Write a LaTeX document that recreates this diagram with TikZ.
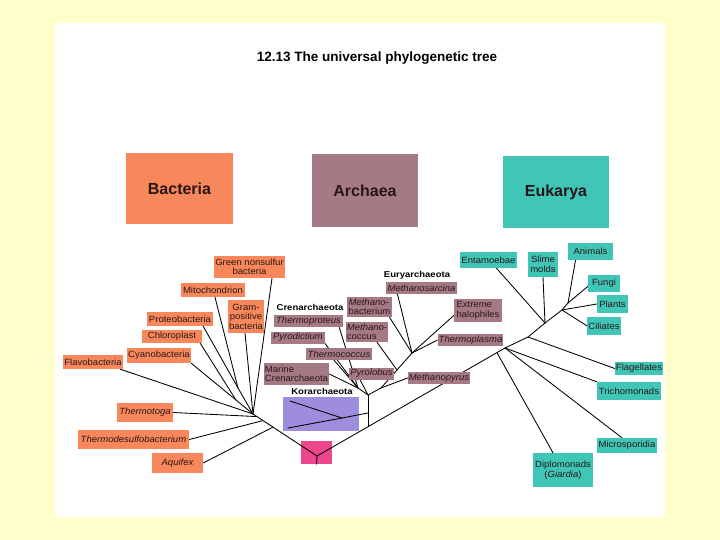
\documentclass[tikz,border=0pt]{standalone}
\usepackage{fontspec}
\setmainfont{Liberation Sans}
\newfontfamily\labfont[FakeStretch=1.06]{Liberation Sans}
\newfontfamily\headfont[FakeStretch=1.12]{Liberation Sans}
\usetikzlibrary{calc}
\pgfdeclarelayer{bgl}
\pgfdeclarelayer{back}
\pgfsetlayers{bgl,back,main}
\definecolor{bgyellow}{RGB}{255,255,204}
\definecolor{bact}{RGB}{248,136,92}
\definecolor{arch}{RGB}{166,122,132}
\definecolor{euk}{RGB}{64,198,182}
\definecolor{kor}{RGB}{158,140,220}
\definecolor{rootc}{RGB}{238,70,140}
\definecolor{txt}{RGB}{40,22,22}
\tikzset{
  lab/.style={inner sep=1pt, font=\labfont\fontsize{9}{9.5}\selectfont, align=center, text=txt},
  bl/.style={lab, fill=bact},
  al/.style={lab, fill=arch},
  el/.style={lab, fill=euk},
  head/.style={inner sep=0pt, font=\headfont\bfseries\fontsize{8.5}{9.5}\selectfont, text=black},
  bigbox/.style={inner sep=0pt, font=\bfseries\fontsize{16}{18}\selectfont, text=txt},
  branch/.style={draw=black, line width=0.85pt, line cap=round, line join=round},
}
\begin{document}
\begin{tikzpicture}[x=1pt,y=-1pt]
\useasboundingbox (0,0) rectangle (720,540);
\begin{pgfonlayer}{bgl}
  \fill[bgyellow] (0,0) rectangle (720,540);
  \fill[white] (55,23) rectangle (665,517);
\end{pgfonlayer}

% title
\node[font=\bfseries\fontsize{13.5}{16}\selectfont] (title) at (377,58) {12.13 The universal phylogenetic tree};

% domain boxes
\node[bigbox, fill=bact, minimum width=107pt, minimum height=71pt] (bacteria) at (179.5,188.5) {Bacteria};
\node[bigbox, fill=arch, minimum width=106pt, minimum height=73pt] (archaea) at (365,190.5) {Archaea};
\node[bigbox, fill=euk, minimum width=106pt, minimum height=72pt] (eukarya) at (556,192) {Eukarya};

% bacteria labels
\node[bl, minimum width=71pt, minimum height=22pt] (green) at (249.5,267) {Green nonsulfur\\bacteria};
\node[bl, minimum width=64pt, minimum height=14pt] (mito) at (213,290) {Mitochondrion};
\node[bl, minimum width=36pt, minimum height=33pt] (gram) at (246,316.5) {Gram-\\positive\\bacteria};
\node[bl, minimum width=66pt, minimum height=14pt] (proteo) at (180,319) {Proteobacteria};
\node[bl, minimum width=60pt, minimum height=13pt] (chloro) at (172,336.5) {Chloroplast};
\node[bl, minimum width=64pt, minimum height=15pt] (cyano) at (159,355.5) {Cyanobacteria};
\node[bl, minimum width=60pt, minimum height=14pt] (flavo) at (93,362) {Flavobacteria};
\node[bl, minimum width=56pt, minimum height=19pt] (thermotoga) at (145,412.5) {\itshape Thermotoga};
\node[bl, minimum width=111pt, minimum height=19pt] (thermodesulfo) at (133.5,439.5) {\itshape Thermodesulfobacterium};
\node[bl, minimum width=51pt, minimum height=20pt] (aquifex) at (177.5,463) {\itshape Aquifex};

% archaea labels
\node[head] (crenhead) at (310,307) {Crenarchaeota};
\node[head] (euryhead) at (417,275) {Euryarchaeota};
\node[head] (korhead) at (322,391) {Korarchaeota};
\node[al, minimum width=69pt, minimum height=12pt] (thermoproteus) at (308.5,321) {\itshape Thermoproteus};
\node[al, minimum width=54pt, minimum height=12pt] (pyrodictium) at (298,337.5) {\itshape Pyrodictium};
\node[al, minimum width=66pt, minimum height=12pt] (thermococcus) at (339,354) {\itshape Thermococcus};
\node[al, minimum width=65pt, minimum height=22pt, align=left] (marine) at (296.5,374) {Marine\\Crenarchaeota};
\node[al, minimum width=45pt, minimum height=12pt] (pyrolobus) at (371.5,373.5) {\itshape Pyrolobus};
\node[al, minimum width=45pt, minimum height=20pt, align=left] (methanobact) at (369.5,307) {\itshape Methano-\\bacterium};
\node[al, minimum width=40pt, minimum height=20pt, align=left] (methanococ) at (367,332) {\itshape Methano-\\coccus};
\node[al, minimum width=71pt, minimum height=12pt] (methanosarc) at (421.5,288) {\itshape Methanosarcina};
\node[al, minimum width=48pt, minimum height=23pt, align=left] (halophiles) at (478,310.5) {Extreme\\halophiles};
\node[al, minimum width=65pt, minimum height=12pt] (thermoplasma) at (470.5,340) {\itshape Thermoplasma};
\node[al, minimum width=62pt, minimum height=12pt] (methanopyrus) at (439,378) {\itshape Methanopyrus};

% eukarya labels
\node[el, minimum width=53pt, minimum height=16pt] (entam) at (488.5,260) {Entamoebae};
\node[el, minimum width=30pt, minimum height=25pt] (slime) at (543,264.5) {Slime\\molds};
\node[el, minimum width=45pt, minimum height=17pt] (animals) at (590.5,251.5) {Animals};
\node[el, minimum width=32pt, minimum height=17pt] (fungi) at (604,283.5) {Fungi};
\node[el, minimum width=31pt, minimum height=18pt] (plants) at (612.5,304) {Plants};
\node[el, minimum width=32pt, minimum height=18pt] (ciliates) at (604,326) {Ciliates};
\node[el, minimum width=48pt, minimum height=13pt] (flag) at (639,368.5) {Flagellates};
\node[el, minimum width=64pt, minimum height=18pt] (tricho) at (629,391) {Trichomonads};
\node[el, minimum width=60pt, minimum height=15pt] (micro) at (627,445.5) {Microsporidia};
\node[el, minimum width=60pt, minimum height=34pt] (diplo) at (563,470) {Diplomonads\\(\textit{Giardia})};

% special boxes
\node[fill=kor, minimum width=76pt, minimum height=34pt, inner sep=0pt] (korbox) at (321,414) {};
\node[fill=rootc, minimum width=31pt, minimum height=23pt, inner sep=0pt] (root) at (316.5,452.5) {};

% internal coordinates
\coordinate (Y) at (317,456);
\coordinate (b0) at (253,414);
\coordinate (bTt) at (257,416.6);
\coordinate (bTd) at (263,420.6);
\coordinate (bAq) at (273,427.1);
\coordinate (bCC) at (236,400);
\coordinate (bPM) at (238,388);
\coordinate (A0) at (368,426.7);
\coordinate (K1) at (368,413);
\coordinate (A) at (368,395);
\coordinate (C) at (358,388);
\coordinate (E0) at (381,388);
\coordinate (E1) at (397,370);
\coordinate (E2) at (412,353);
\coordinate (K) at (342,418);
\coordinate (Ka) at (290,401);
\coordinate (Kb) at (288,428);
\coordinate (D0) at (497,352.7);
\coordinate (D1) at (505,348);
\coordinate (D2) at (528,337);
\coordinate (D3) at (545,323);
\coordinate (D4) at (562,310);
\coordinate (D5) at (568,303);

\begin{pgfonlayer}{back}
  % trunk
  \draw[branch] (b0) -- (Y) -- (D1);
  % bacteria
  \draw[branch] (bAq) -- (aquifex.east);
  \draw[branch] (bTd) -- (thermodesulfo.east);
  \draw[branch] (bTt) -- (thermotoga.east);
  \draw[branch] (b0) -- ([xshift=-3pt]flavo.south east);
  \draw[branch] (b0) -- (bCC) -- (cyano.south east);
  \draw[branch] (bCC) -- ([xshift=-2pt]chloro.south east);
  \draw[branch] (b0) -- (bPM) -- ([xshift=-10pt]proteo.south east);
  \draw[branch] (bPM) -- ([xshift=2pt]mito.south);
  \draw[branch] (b0) -- ([xshift=-1pt]gram.south);
  \draw[branch] (b0) -- ([xshift=22.5pt]green.south);
  % archaea
  \draw[branch] (A0) -- (A);
  \draw[branch] (A) -- (C) -- (marine.east);
  \draw[branch] (C) -- ([xshift=-4pt]thermoproteus.south east);
  \draw[branch] (C) -- (pyrodictium.south east);
  \draw[branch] (C) -- ([xshift=-5pt]thermococcus.south);
  \draw[branch] (A) -- ([xshift=-11.5pt]pyrolobus.south);
  \draw[branch] (A) -- (E0) -- (methanopyrus.west);
  \draw[branch] (E0) -- (E1) -- ([xshift=10pt]methanococ.south);
  \draw[branch] (E1) -- (E2) -- ([xshift=-24pt]methanosarc.south);
  \draw[branch] (E2) -- ([xshift=20pt]methanobact.south);
  \draw[branch] (E2) -- ([yshift=-5pt]halophiles.west);
  \draw[branch] (E2) -- (thermoplasma.west);
  % eukarya
  \draw[branch] (D1) -- (D2) -- (D3) -- (D4) -- (D5);
  \draw[branch] (D0) -- ([xshift=-10pt]diplo.north);
  \draw[branch] (D1) -- ([xshift=-5pt]micro.north);
  \draw[branch] (D1) -- (tricho.north west);
  \draw[branch] (D2) -- (flag.west);
  \draw[branch] (D3) -- ([xshift=8pt]entam.south);
  \draw[branch] (D3) -- (slime.south);
  \draw[branch] (D4) -- (plants.west);
  \draw[branch] (D4) -- (ciliates.west);
  \draw[branch] (D5) -- ([xshift=-15pt]animals.south);
  \draw[branch] (D5) -- ([yshift=-3pt]fungi.west);
\end{pgfonlayer}

% lines drawn over boxes
\begin{scope}
  \clip (root.south west) rectangle (root.north east);
  \draw[branch] (b0) -- (Y) -- (D1);
  \draw[branch] (Y) -- (root.south);
\end{scope}
\draw[branch] (K1) -- (K) -- (Ka);
\draw[branch] (K) -- (Kb);
\end{tikzpicture}
\end{document}
